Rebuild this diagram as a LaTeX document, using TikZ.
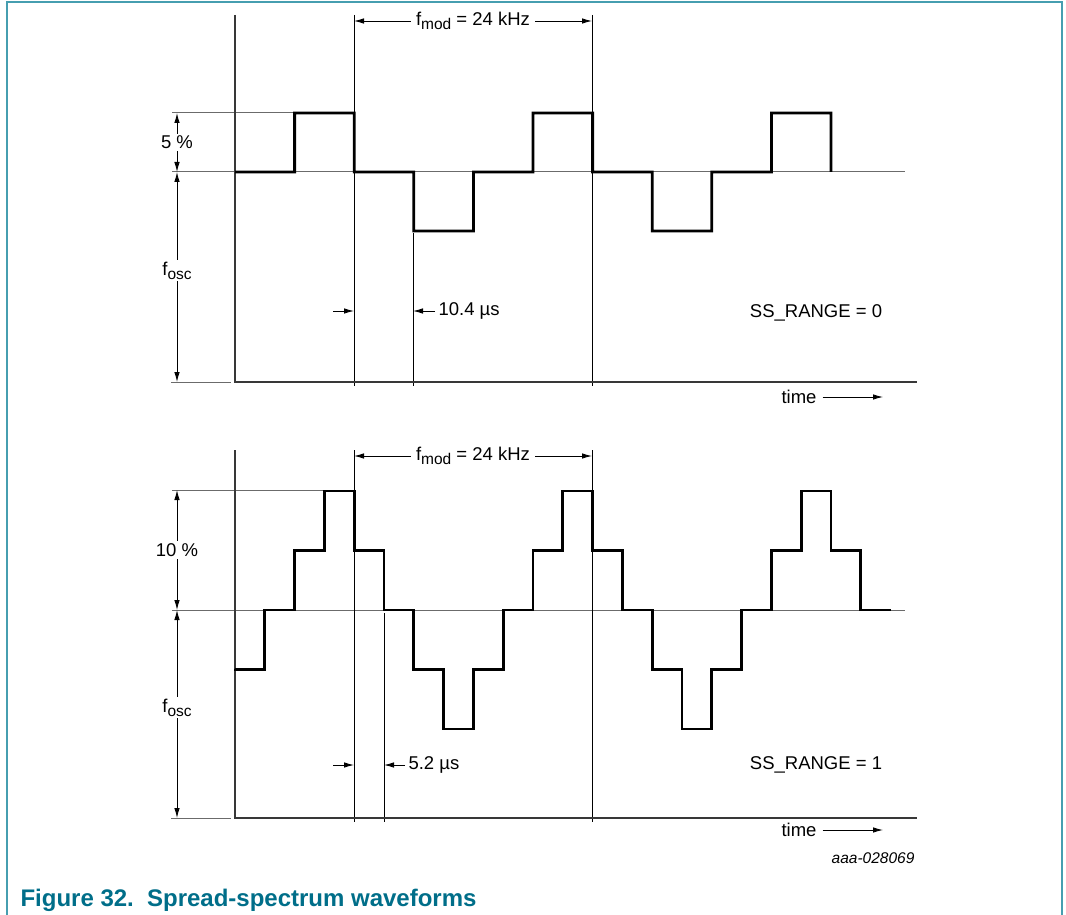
\documentclass[tikz,border=0pt]{standalone}
\usepackage{fontspec}
\setmainfont{Liberation Sans}
\usepackage{xcolor}
\usetikzlibrary{arrows.meta, positioning}

\definecolor{nxpteal}{RGB}{0,110,137}
\definecolor{framecol}{RGB}{70,158,176}
\newcommand{\lowtext}[1]{\raisebox{-0.4ex}{\fontsize{15.5}{16}\selectfont #1}}

\begin{document}
\begin{tikzpicture}[
        x=1pt, y=-1pt,
        font=\fontsize{18.5}{22}\selectfont,
        wave/.style={line width=2.8pt, black, line join=miter},
        refline/.style={line width=1pt, black!58},
        marker/.style={line width=0.9pt, black},
        axisline/.style={line width=1.7pt, black!78},
        dim/.style={line width=0.9pt, {Latex[length=10pt,width=5.5pt]}-{Latex[length=10pt,width=5.5pt]}},
        tip/.style={line width=0.9pt, -{Latex[length=10pt,width=5.5pt]}},
        lbl/.style={fill=white, inner xsep=5pt, inner ysep=2pt},
        timelbl/.style={inner xsep=6pt}
    ]
    \useasboundingbox (0,0) rectangle (1066,915);

    % frame
    \draw[framecol, line width=1.5pt] (7,915) -- (7,2) -- (1062,2) -- (1062,915);

    % Top panel: SS_RANGE = 0
    \draw[refline] (172,113) -- (294,113);
    \draw[refline] (172,172) -- (905,172);
    \draw[refline] (171,382) -- (231,382);
    \draw[marker] (354,15) -- (354,386);
    \draw[marker] (592,15) -- (592,386);
    \draw[marker] (413,233) -- (413,386);
    \draw[axisline] (235,15) -- (235,382) -- (917,382);
    \draw[wave] (235,172) \foreach \lv [count=\k] in {0,1,0,-1,0,1,0,-1,0,1} {
        |- ({235+59.6*\k},{172-59*\lv}) } -- (831,172);

    \coordinate (topHi) at (177,113);
    \coordinate (topMid) at (177,172);
    \coordinate (topBase) at (177,382);
    \draw[dim] (topHi) -- node[lbl] (pct5) {5 \%} (topMid);
    \draw[dim] (topMid) -- node[lbl, pos=0.47] (fosc1) {f\lowtext{osc}} (topBase);

    \coordinate (fmodL1) at (354,21);
    \coordinate (fmodR1) at (592,21);
    \draw[dim] (fmodL1) -- node[lbl] (fmod1) {f\lowtext{mod} = 24 kHz} (fmodR1);

    \coordinate (stepA1) at (333,311);
    \coordinate (stepB1) at (354,311);
    \coordinate (stepC1) at (413,311);
    \coordinate (stepD1) at (435,311);
    \draw[tip] (stepA1) -- (stepB1);
    \draw[tip] (stepD1) -- (stepC1);
    \node[right=0pt of stepD1] (step1) {10.4 µs};

    \node (ss0) at (816,313) {SS\_RANGE = 0};
    \node[timelbl] (time1) at (799,397) {time};
    \coordinate (timeEnd1) at (883,397);
    \draw[tip] (time1.east) -- (timeEnd1);

    % Bottom panel: SS_RANGE = 1
    \draw[refline] (172,490) -- (324,490);
    \draw[refline] (172,610) -- (905,610);
    \draw[refline] (171,818) -- (231,818);
    \draw[marker] (354,450) -- (354,822);
    \draw[marker] (592,450) -- (592,822);
    \draw[marker] (384,613) -- (384,822);
    \draw[axisline] (235,450) -- (235,818) -- (917,818);
    \draw[wave] (235,669) \foreach \lv [count=\k] in {-1,0,1,2,1,0,-1,-2,-1,0,1,2,1,0,-1,-2,-1,0,1,2,1,0} {
        |- ({235+29.8*\k},{610-59.5*\lv}) };

    \coordinate (botHi) at (177,490);
    \coordinate (botMid) at (177,610);
    \coordinate (botBase) at (177,818);
    \draw[dim] (botHi) -- node[lbl] (pct10) {10 \%} (botMid);
    \draw[dim] (botMid) -- node[lbl, pos=0.47] (fosc2) {f\lowtext{osc}} (botBase);

    \coordinate (fmodL2) at (354,456);
    \coordinate (fmodR2) at (592,456);
    \draw[dim] (fmodL2) -- node[lbl] (fmod2) {f\lowtext{mod} = 24 kHz} (fmodR2);

    \coordinate (stepA2) at (333,765);
    \coordinate (stepB2) at (354,765);
    \coordinate (stepC2) at (384,765);
    \coordinate (stepD2) at (405,765);
    \draw[tip] (stepA2) -- (stepB2);
    \draw[tip] (stepD2) -- (stepC2);
    \node[right=0pt of stepD2] (step2) {5.2 µs};

    \node (ss1) at (816,765) {SS\_RANGE = 1};
    \node[timelbl] (time2) at (799,830) {time};
    \coordinate (timeEnd2) at (883,830);
    \draw[tip] (time2.east) -- (timeEnd2);

    % id and caption
    \node[anchor=east, font=\fontsize{15.5}{18}\selectfont\itshape] (docid) at (918,858) {aaa-028069};
    \node[anchor=west, text=nxpteal, font=\fontsize{24}{28}\selectfont\bfseries] (caption) at (17,900)
        {Figure 32.\hspace{0.55em}Spread-spectrum waveforms};
\end{tikzpicture}
\end{document}
